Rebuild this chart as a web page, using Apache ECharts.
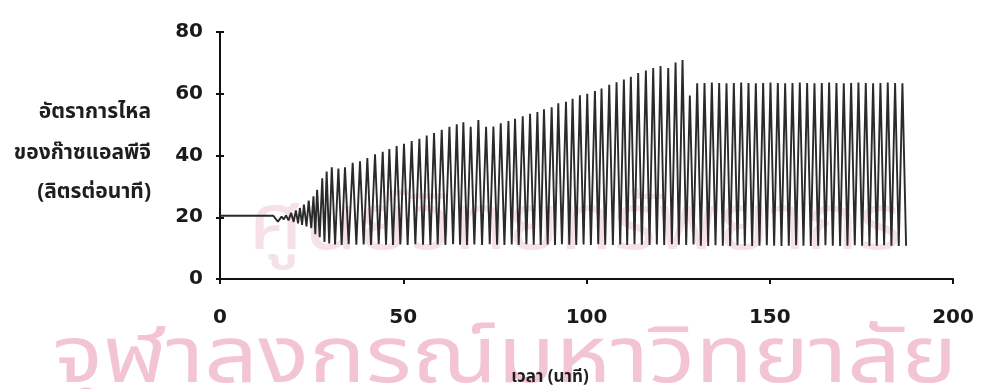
<!DOCTYPE html>
<html>
<head>
<meta charset="utf-8">
<script src="https://cdn.jsdelivr.net/npm/echarts@6/dist/echarts.min.js"></script>
<style>
html,body{margin:0;padding:0;background:#ffffff;}
#chart{width:982px;height:389px;}
</style>
</head>
<body>
<div id="chart"></div>
<script>
var timeMin = [
  0, 14.5, 15.8, 16.8, 17.4, 18.0, 18.7, 19.4, 20.1, 20.7, 21.3, 21.8, 22.4, 22.9, 23.6, 24.2, 24.9, 25.5, 26.0, 26.5,
  27.2, 27.9, 28.5, 29.1, 29.8, 30.5, 31.4, 32.3, 33.2, 34.1, 35.1, 36.2, 37.2, 38.2, 39.2, 40.2, 41.2, 42.3, 43.3, 44.4,
  45.3, 46.2, 47.2, 48.2, 49.2, 50.2, 51.2, 52.3, 53.3, 54.4, 55.4, 56.4, 57.4, 58.4, 59.4, 60.5, 61.5, 62.6, 63.6, 64.6,
  65.5, 66.4, 67.4, 68.4, 69.4, 70.5, 71.5, 72.6, 73.6, 74.6, 75.6, 76.6, 77.6, 78.7, 79.6, 80.5, 81.5, 82.6, 83.6, 84.6,
  85.6, 86.6, 87.5, 88.4, 89.4, 90.5, 91.4, 92.3, 93.3, 94.4, 95.3, 96.2, 97.2, 98.2, 99.2, 100.2, 101.2, 102.3, 103.2, 104.1,
  105.1, 106.2, 107.2, 108.2, 109.2, 110.2, 111.1, 112.1, 113.1, 114.1, 115.1, 116.2, 117.2, 118.2, 119.2, 120.2, 121.2, 122.3, 123.3, 124.3,
  125.2, 126.2, 127.2, 128.2, 129.2, 130.2, 131.2, 132.2, 133.2, 134.2, 135.2, 136.2, 137.2, 138.2, 139.2, 140.2, 141.2, 142.2, 143.2, 144.2,
  145.2, 146.2, 147.2, 148.2, 149.2, 150.2, 151.2, 152.2, 153.2, 154.2, 155.2, 156.2, 157.2, 158.2, 159.2, 160.2, 161.2, 162.2, 163.2, 164.2,
  165.2, 166.2, 167.2, 168.2, 169.2, 170.2, 171.2, 172.2, 173.2, 174.2, 175.2, 176.2, 177.2, 178.2, 179.2, 180.2, 181.2, 182.2, 183.2, 184.2,
  185.2, 186.2, 187.2
];
// LPG flow rate (litres per minute) at each point
var flowLpm = [
  20.5, 20.5, 18.6, 20.2, 19.3, 20.6, 19.0, 21.4, 18.5, 22.2, 18.0, 23.0, 17.5, 24.1, 17.0, 25.4, 16.5, 26.8, 14.5, 28.9,
  13.5, 32.6, 12.0, 34.8, 11.5, 36.2, 11.2, 35.8, 11.0, 36.2, 11.3, 37.6, 11.1, 38.1, 11.2, 39.2, 11.0, 40.4, 11.3, 41.2,
  11.1, 42.1, 11.0, 43.1, 11.2, 43.8, 11.0, 44.7, 11.3, 45.4, 11.1, 46.5, 11.0, 47.3, 11.2, 48.3, 11.0, 49.3, 11.3, 50.1,
  11.1, 50.8, 11.0, 49.3, 11.2, 51.5, 11.0, 49.3, 11.3, 49.4, 11.1, 50.4, 11.0, 51.2, 11.2, 51.9, 11.0, 52.7, 11.3, 53.5,
  11.1, 54.1, 11.0, 55.0, 11.2, 55.6, 11.0, 56.9, 11.3, 57.4, 11.1, 58.4, 11.0, 59.5, 11.2, 60.0, 11.0, 60.9, 11.3, 61.7,
  11.1, 62.9, 11.0, 63.7, 11.2, 64.6, 11.0, 65.5, 11.3, 66.7, 11.1, 67.5, 11.0, 68.3, 11.2, 69.0, 11.0, 68.3, 11.3, 70.1,
  11.1, 70.9, 11.0, 59.4, 11.2, 63.4, 10.8, 63.5, 10.7, 63.6, 10.9, 63.5, 10.8, 63.4, 10.7, 63.5, 10.9, 63.6, 10.8, 63.5,
  10.7, 63.4, 10.8, 63.5, 10.9, 63.6, 10.8, 63.5, 10.7, 63.4, 10.8, 63.5, 10.9, 63.6, 10.8, 63.5, 10.7, 63.4, 10.8, 63.5,
  10.9, 63.6, 10.8, 63.5, 10.7, 63.4, 10.8, 63.5, 10.9, 63.6, 10.8, 63.5, 10.7, 63.4, 10.8, 63.5, 10.9, 63.6, 10.8, 63.5,
  10.7, 63.4, 10.8
];
var xTicks = [0, 50, 100, 150, 200];
var yTicks = [0, 20, 40, 60, 80];
var xTitle = 'เวลา (นาที)';
var yTitleLines = ['อัตราการไหล', 'ของก๊าซแอลพีจี', '(ลิตรต่อนาที)'];
var watermarkTop = 'ศูนย์วิทยทรัพยากร';
var watermarkBottom = 'จุฬาลงกรณ์มหาวิทยาลัย';

var seriesData = timeMin.map(function (t, i) { return [t, flowLpm[i]]; });

var numFont = '"DejaVu Sans", sans-serif';
var thaiFont = '"Noto Sans Thai", "Noto Sans", "DejaVu Sans", sans-serif';

var yTitleY = [114, 155, 194];
var graphics = [
  {type: 'text', z: -10, x: 575, y: 194, scaleX: 1.13, style: {text: watermarkTop, font: '78px ' + thaiFont, fill: '#f6e0ea', align: 'center', verticalAlign: 'top'}},
  {type: 'text', z: -10, x: 505, y: 327, scaleX: 1.21, style: {text: watermarkBottom, font: '78px ' + thaiFont, fill: '#f3c4d6', align: 'center', verticalAlign: 'top'}},
  {type: 'text', z: 10, x: 550, y: 379, style: {text: xTitle, font: 'bold 17px ' + thaiFont, fill: '#1e1e1e', align: 'center', verticalAlign: 'middle'}}
];
yTitleLines.forEach(function (s, i) {
  graphics.push({type: 'text', z: 10, x: 151, y: yTitleY[i], style: {text: s, font: 'bold 21px ' + thaiFont, fill: '#1e1e1e', align: 'right', verticalAlign: 'middle'}});
});

var chart = echarts.init(document.getElementById('chart'), null, {renderer: 'canvas'});
var option = {
  backgroundColor: '#ffffff',
  animation: false,
  grid: {left: 220, right: 29, top: 32, bottom: 110, containLabel: false},
  graphic: graphics,
  xAxis: [{
    type: 'value', min: xTicks[0], max: xTicks[xTicks.length - 1], interval: 50,
    axisLine: {show: true, onZero: false, lineStyle: {color: '#111', width: 2}},
    axisTick: {show: true, length: 5, lineStyle: {color: '#111', width: 2}},
    axisLabel: {margin: 29, color: '#1a1a1a', fontFamily: numFont, fontWeight: 'bold', fontSize: 20},
    splitLine: {show: false}
  }],
  yAxis: [{
    type: 'value', min: yTicks[0], max: yTicks[yTicks.length - 1], interval: 20,
    axisLine: {show: true, lineStyle: {color: '#111', width: 2}},
    axisTick: {show: true, length: 4, lineStyle: {color: '#111', width: 2}},
    axisLabel: {margin: 17, color: '#1a1a1a', fontFamily: numFont, fontWeight: 'bold', fontSize: 20},
    splitLine: {show: false}
  }, {
    type: 'value', position: 'left', min: yTicks[0], max: yTicks[yTicks.length - 1], interval: 20,
    axisLine: {show: false},
    axisTick: {show: true, inside: true, length: 4, lineStyle: {color: '#111', width: 2}},
    axisLabel: {show: false},
    splitLine: {show: false}
  }],
  series: [{
    type: 'line',
    data: seriesData,
    showSymbol: false,
    symbol: 'none',
    lineStyle: {color: '#2a2a2a', width: 1.9},
    z: 5
  }]
};
chart.setOption(option);
</script>
</body>
</html>
